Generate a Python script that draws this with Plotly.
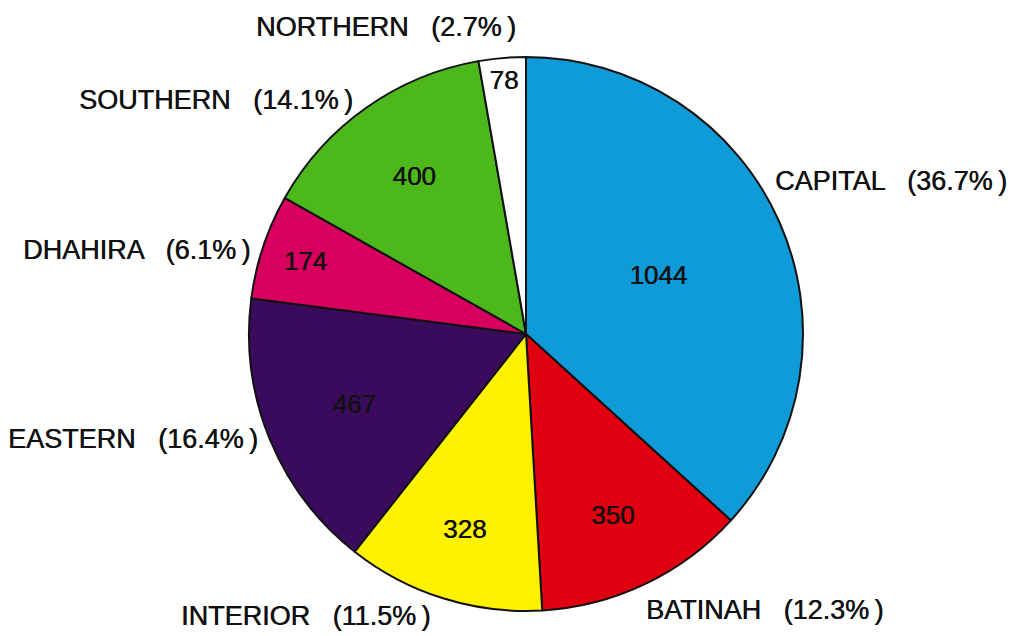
import plotly.graph_objects as go

regions = ["CAPITAL", "BATINAH", "INTERIOR", "EASTERN", "DHAHIRA", "SOUTHERN", "NORTHERN"]
values = [1044, 350, 328, 467, 174, 400, 78]
colors = ["#0f9ad8", "#e0000f", "#fff200", "#3a0a5c", "#d8005e", "#4cb81c", "#ffffff"]

W, H = 1014, 636
cx, cy, r = 526, 334, 277

total = sum(values)
pct = [f"{v / total * 100:.1f}%" for v in values]

FONT = "Liberation Sans, Arial, Helvetica, sans-serif"
SHADOW = "0.5px 0 0 #111111"

fig = go.Figure(go.Pie(
    labels=regions,
    values=values,
    marker=dict(colors=colors, line=dict(color="#111111", width=2)),
    sort=False,
    direction="clockwise",
    rotation=0,
    textinfo="value",
    textposition="inside",
    insidetextorientation="horizontal",
    textfont=dict(family=FONT, size=26, color="#111111", shadow=SHADOW),
    domain=dict(x=[(cx - r) / W, (cx + r) / W], y=[(H - cy - r) / H, (H - cy + r) / H]),
    showlegend=False,
    hoverinfo="label+value+percent",
))

# outside labels (pixel positions of label centers)
label_pos = {
    "CAPITAL": (891, 181),
    "BATINAH": (764, 610),
    "INTERIOR": (305, 616),
    "EASTERN": (133, 439),
    "DHAHIRA": (136, 250),
    "SOUTHERN": (216, 100),
    "NORTHERN": (386, 27),
}
for name, p in zip(regions, pct):
    x, y = label_pos[name]
    fig.add_annotation(
        x=x / W, y=1 - y / H, xref="paper", yref="paper",
        text=f"{name}   ({p}\u2009)", showarrow=False,
        font=dict(family=FONT, size=27, color="#111111", shadow=SHADOW),
        xanchor="center", yanchor="middle",
    )

fig.update_layout(
    width=W, height=H,
    margin=dict(l=0, r=0, t=0, b=0),
    paper_bgcolor="white",
    plot_bgcolor="white",
)

fig.write_html(
    "out.html",
    config={"displayModeBar": False},
    post_script="document.body.style.margin='0';document.body.style.overflow='hidden';",
)
